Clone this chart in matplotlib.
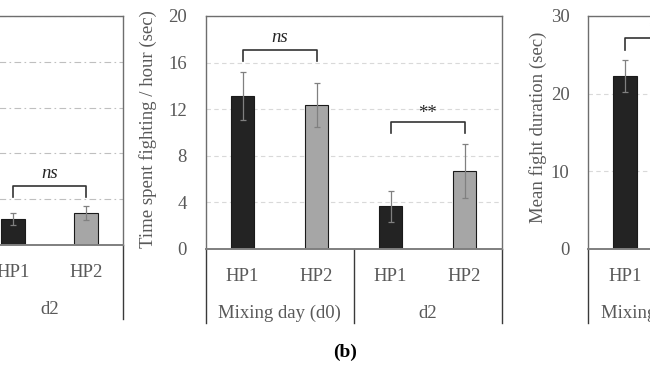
import matplotlib
matplotlib.use("Agg")
import matplotlib.pyplot as plt
from matplotlib.transforms import blended_transform_factory, offset_copy

plt.rcParams['font.family'] = ['Liberation Serif', 'DejaVu Serif']
plt.rcParams['font.size'] = 13.5

# ---------------- data ----------------
categories = ['HP1', 'HP2', 'HP1', 'HP2']
groups = ['Mixing day (d0)', 'd2']

# panel (a) - only the d2 part is visible
a_pos = [2, 3]
a_means = [1.13, 1.40]
a_err = [0.26, 0.30]
a_yticks = [0, 2, 4, 6, 8, 10]

# panel (b) time spent fighting / hour
b_pos = [0, 1, 2, 3]
b_means = [13.15, 12.35, 3.65, 6.7]
b_err = [2.05, 1.9, 1.35, 2.3]
b_yticks = [0, 4, 8, 12, 16, 20]
b_ylabel = 'Time spent fighting / hour (sec)'

# panel (c) mean fight duration - only HP1 d0 visible
c_pos = [0]
c_means = [22.3]
c_err = [2.05]
c_yticks = [0, 10, 20, 30]
c_ylabel = 'Mean fight duration (sec)'

bar_colors = ['#232323', '#a6a6a6', '#232323', '#a6a6a6']

W, H = 650, 366
fig = plt.figure(figsize=(W / 100, H / 100), dpi=100)

TXT = '#595959'
SPINE = '#6e6e6e'


def add_ax(left, top, right, bottom):
    return fig.add_axes([left / W, 1 - bottom / H, (right - left) / W, (bottom - top) / H])


def style(ax, yticks, grid_ls, grid_color, height_px, seps, cat_idx, grp_idx,
          show_labels=True):
    ax.set_xlim(-0.5, 3.5)
    ax.set_ylim(yticks[0], yticks[-1])
    ax.set_yticks(yticks)
    ax.set_xticks([])
    ax.tick_params(axis='y', length=0, pad=13.5, labelcolor=TXT, labelleft=show_labels)
    ax.yaxis.grid(True, linestyle=grid_ls, color=grid_color, lw=0.8)
    ax.set_axisbelow(True)
    for s in ['top', 'left', 'right']:
        ax.spines[s].set_color(SPINE)
        ax.spines[s].set_linewidth(1.0)
    ax.spines['bottom'].set_color('#7f7f7f')
    ax.spines['bottom'].set_linewidth(1.4)
    tr = blended_transform_factory(ax.transData, ax.transAxes)
    ext = 74.0 / height_px
    for x in seps:
        ax.plot([x, x], [0, -ext], transform=tr, clip_on=False, color='#3a3a3a', lw=1.0)
    for i in cat_idx:
        ax.text(i, -32.0 / height_px, categories[i], transform=tr, ha='center',
                va='baseline', color=TXT, clip_on=False)
    for j in grp_idx:
        ax.text(2 * j + 0.5, -69.0 / height_px, groups[j], transform=tr, ha='center',
                va='baseline', color=TXT, clip_on=False)


def bracket(ax, x1, x2, y_leg, y_top, label, italic, dy_px):
    ax.plot([x1, x1, x2, x2], [y_leg, y_top, y_top, y_leg], color='#333333', lw=1.2,
            clip_on=False)
    tr = offset_copy(ax.transData, fig=fig, y=dy_px * 0.72, units='points')
    ax.text((x1 + x2) / 2, y_top, label, transform=tr, ha='center', va='baseline',
            style='italic' if italic else 'normal', color='#262626', clip_on=False)


def bars(ax, pos, means, err):
    ax.bar(pos, means, width=0.32, color=[bar_colors[p] for p in pos], edgecolor='#1a1a1a',
           lw=0.8, yerr=err,
           error_kw=dict(ecolor='#808080', elinewidth=0.9, capsize=2.5, capthick=0.9),
           zorder=2)


# panel (a)
axa = add_ax(-171, 16, 123, 245)
style(axa, a_yticks, (0, (6, 3, 1.5, 3)), '#bfbfbf', 229, [3.5], [2, 3], [1],
      show_labels=False)
bars(axa, a_pos, a_means, a_err)
bracket(axa, 2, 3, 2.1, 2.58, 'ns', True, 8)

# panel (b)
axb = add_ax(205.5, 16, 501.5, 248.7)
style(axb, b_yticks, (0, (4, 3)), '#d9d9d9', 232.7, [-0.5, 1.5, 3.5], [0, 1, 2, 3], [0, 1])
bars(axb, b_pos, b_means, b_err)
bracket(axb, 0, 1, 16.1, 17.08, 'ns', True, 7.5)
bracket(axb, 2, 3, 9.97, 10.92, '**', False, 3.8)
fig.text(148 / W, 1 - 129 / H, b_ylabel, rotation=90, ha='center', va='center', color=TXT)

# panel (c)
axc = add_ax(588.3, 16, 588.3 + 296, 248.7)
style(axc, c_yticks, (0, (4, 3)), '#d9d9d9', 232.7, [-0.5], [0], [0])
bars(axc, c_pos, c_means, c_err)
bracket(axc, 0, 1, 25.6, 27.2, '***', False, 3.8)
fig.text(538 / W, 1 - 127 / H, c_ylabel, rotation=90, ha='center', va='center', color=TXT)

fig.text(345 / W, 1 - 356.5 / H, '(b)', ha='center', va='baseline', fontweight='bold',
         fontsize=14, color='black')

fig.savefig('out.png', dpi=100)
